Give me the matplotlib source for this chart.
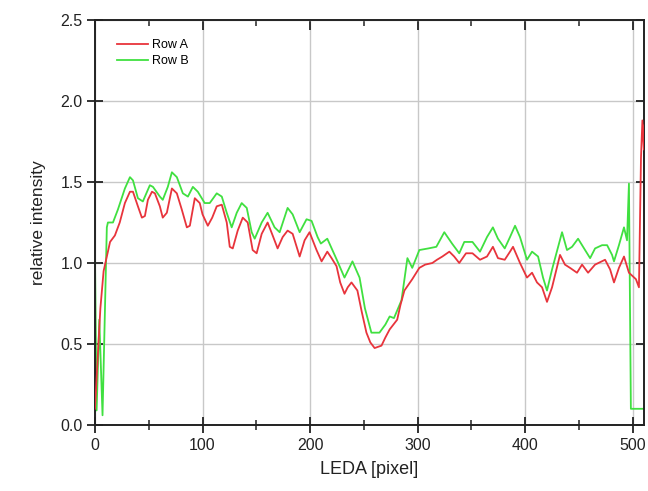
import matplotlib
matplotlib.use("Agg")
import matplotlib.pyplot as plt
from matplotlib.ticker import MultipleLocator, FormatStrFormatter
from matplotlib.lines import TICKDOWN, TICKLEFT

plt.rcParams['font.family'] = ['Liberation Sans', 'DejaVu Sans']

# Row A (red)
row_a_x = [0, 2, 5, 8, 11, 14, 18.5, 23, 27.8, 32.5, 35.3, 39.9, 43.6, 46.4, 49.2, 53, 55.7,
           60.3, 63, 66.8, 71.5, 76.1, 80.7, 85.4, 88.2, 92.8, 97.4, 100, 104.9, 109,
           113.2, 117.9, 122.5, 125.3, 128.1, 132.7, 137.4, 142, 146.6, 150.3, 155, 160.5,
           165.2, 169.8, 174.5, 179.1, 183.8, 190.3, 194.9, 199.5, 206, 210.7, 216, 220,
           224.6, 228, 232, 235, 238.5, 244, 248, 252.4, 256, 260, 266.4, 270, 274, 281,
           284, 287.7, 295, 301.6, 307, 313.7, 318, 323, 329.5, 334, 338.7, 345, 351, 358,
           364.5, 370, 374.7, 381, 385.9, 388.7, 395.2, 401.7, 406.4, 411, 415.7, 420.3,
           425, 432.4, 437, 441.7, 448.2, 452.9, 458.5, 465, 474.3, 479, 482.6, 487.2,
           491.9, 496.5, 503, 505.8, 507.7, 509, 510.4, 511]
row_a_y = [0.10, 0.35, 0.72, 0.95, 1.04, 1.13, 1.17, 1.25, 1.37, 1.44, 1.44, 1.35, 1.28, 1.29, 1.39, 1.44, 1.43,
           1.35, 1.28, 1.31, 1.46, 1.43, 1.33, 1.22, 1.23, 1.40, 1.37, 1.30, 1.23, 1.28,
           1.35, 1.36, 1.25, 1.10, 1.09, 1.20, 1.28, 1.25, 1.08, 1.06, 1.18, 1.25,
           1.17, 1.09, 1.16, 1.20, 1.18, 1.04, 1.14, 1.19, 1.08, 1.01, 1.07, 1.03,
           0.98, 0.88, 0.81, 0.85, 0.88, 0.83, 0.70, 0.57, 0.51, 0.475, 0.49, 0.54, 0.59, 0.65,
           0.74, 0.83, 0.90, 0.97, 0.99, 1.00, 1.02, 1.04, 1.07, 1.04, 1.00, 1.06, 1.06, 1.02,
           1.04, 1.10, 1.03, 1.02, 1.07, 1.10, 1.00, 0.91, 0.94, 0.88, 0.85, 0.76,
           0.85, 1.05, 0.99, 0.97, 0.94, 0.99, 0.94, 0.99, 1.02, 0.96, 0.88, 0.97,
           1.04, 0.94, 0.90, 0.85, 1.65, 1.88, 1.70, 1.85]

# Row B (green)
row_b_x = [0, 1.5, 4, 7, 11, 12, 16.7, 21.3, 27.8, 32.5, 35.3, 39.9, 44.5, 51, 53.9, 60.3, 63,
           67.7, 71.5, 76.1, 81.7, 86.4, 91, 95.6, 102, 106.7, 113.2, 117.9, 122.5, 127.1,
           131.8, 136.4, 141.1, 145.7, 148.5, 155, 160.5, 167, 171.7, 179.1, 183.8, 190.3,
           196.7, 201.4, 207, 210, 216, 225.5, 232, 239.4, 246, 251, 257, 264.5, 270, 274,
           278, 285, 290.5, 295, 301.6, 310, 317.4, 324.8, 332, 338.7, 343.4, 351, 358,
           364.5, 370, 374.7, 381, 385.9, 390.6, 395.2, 401.7, 406.4, 412, 416.6, 420.3,
           425, 434.3, 438.9, 443.6, 449.2, 455.7, 460.4, 465, 471.5, 476.2, 480.8, 482.6,
           487.2, 491.9, 494.7, 496.5, 498.3, 511]
row_b_y = [1.02, 0.09, 0.65, 0.06, 1.22, 1.25, 1.25, 1.33, 1.46, 1.53, 1.51, 1.40, 1.38, 1.48, 1.47, 1.41, 1.39,
           1.47, 1.56, 1.53, 1.43, 1.41, 1.47, 1.44, 1.37, 1.37, 1.43, 1.41, 1.31, 1.22,
           1.31, 1.37, 1.34, 1.19, 1.15, 1.25, 1.31, 1.22, 1.19, 1.34, 1.30, 1.19,
           1.27, 1.26, 1.16, 1.12, 1.15, 1.01, 0.91, 1.01, 0.91, 0.72, 0.57, 0.57, 0.62, 0.67,
           0.66, 0.77, 1.03, 0.97, 1.08, 1.09, 1.10, 1.19, 1.12, 1.06, 1.13, 1.13, 1.07,
           1.16, 1.22, 1.15, 1.09, 1.16, 1.23, 1.16, 1.02, 1.07, 1.04, 0.91, 0.83,
           0.96, 1.19, 1.08, 1.10, 1.15, 1.08, 1.03, 1.09, 1.11, 1.11, 1.05, 1.01,
           1.11, 1.22, 1.14, 1.49, 0.10, 0.10]

labels = ["Row A", "Row B"]
x_label = "LEDA [pixel]"
y_label = "relative intensity"

XLIM = (0, 510.5)
YLIM = (0, 2.5)
INK = '#222222'

fig = plt.figure(figsize=(6.48, 4.91), dpi=100)
rect = [95/648, 1-425/491, 549/648, 405/491]
ax = fig.add_axes(rect)

ax.plot(row_a_x, row_a_y, color='#e8343c', lw=1.3, label=labels[0], zorder=3,
        solid_joinstyle='round')
ax.plot(row_b_x, row_b_y, color='#40e040', lw=1.3, label=labels[1], zorder=2,
        solid_joinstyle='round')

ax.set_xlim(*XLIM)
ax.set_ylim(*YLIM)
ax.xaxis.set_major_locator(MultipleLocator(100))
ax.xaxis.set_minor_locator(MultipleLocator(50))
ax.yaxis.set_major_locator(MultipleLocator(0.5))
ax.yaxis.set_major_formatter(FormatStrFormatter('%.1f'))

ax.grid(True, which='major', color='#c8c8c8', lw=1.0)
ax.set_axisbelow(True)
for s in ax.spines.values():
    s.set_linewidth(1.4)
    s.set_color(INK)

ax.tick_params(axis='both', which='major', direction='inout', length=12, width=1.3,
               labelsize=11.5, pad=3, labelcolor=INK, color=INK,
               top=True, right=True)
ax.tick_params(axis='x', which='minor', direction='inout', length=7, width=1.1, color=INK,
               top=True)

ax.set_xlabel(x_label, fontsize=13, labelpad=6, color=INK)
ax.set_ylabel(y_label, fontsize=12.5, labelpad=10, color=INK)

leg = ax.legend(loc='upper left', bbox_to_anchor=(0.02, 0.98), frameon=False,
                fontsize=9, handlelength=2.5, handletextpad=0.3, labelspacing=0.3)

# top and right ticks point inward only
fig.canvas.draw()
for t in ax.xaxis.get_major_ticks():
    t.tick2line.set_marker(TICKDOWN)
    t.tick2line.set_markersize(7)
for t in ax.xaxis.get_minor_ticks():
    t.tick2line.set_marker(TICKDOWN)
    t.tick2line.set_markersize(4)
for t in ax.yaxis.get_major_ticks():
    t.tick2line.set_marker(TICKLEFT)
    t.tick2line.set_markersize(6)

fig.savefig("out.png", dpi=100)
